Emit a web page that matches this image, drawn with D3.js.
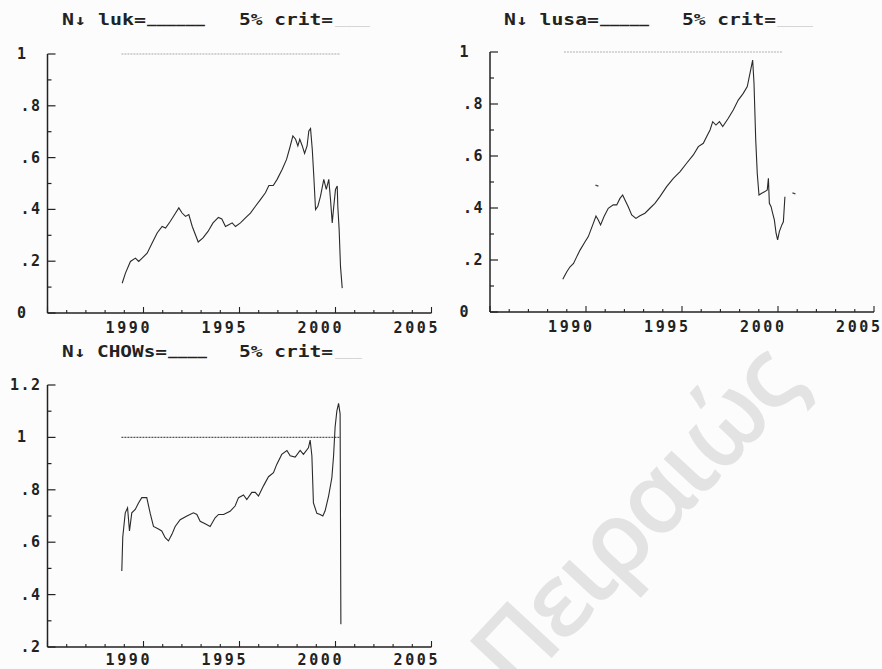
<!DOCTYPE html>
<html>
<head>
<meta charset="utf-8">
<script src="https://cdn.jsdelivr.net/npm/d3@7"></script>
<style>
  html, body { margin: 0; padding: 0; background: #fcfcfc; }
  svg { display: block; }
  .mono { font-family: "DejaVu Sans Mono", "Liberation Mono", monospace; font-weight: bold; fill: #222; }
</style>
</head>
<body>
<svg id="chart" width="882" height="669"></svg>
<script>
// Recursive break-point statistics (scaled), monthly-ish samples
const lukYears = [1988.89, 1989.06, 1989.32, 1989.58, 1989.75, 1989.93, 1990.19, 1990.45, 1990.71, 1990.97,
  1991.15, 1991.40, 1991.67, 1991.84, 1992.01, 1992.19, 1992.36, 1992.54, 1992.85, 1993.10,
  1993.36, 1993.62, 1993.90, 1994.08, 1994.27, 1994.44, 1994.62, 1994.79, 1995.05, 1995.31,
  1995.57, 1995.83, 1996.09, 1996.35, 1996.53, 1996.76, 1996.96, 1997.22, 1997.45, 1997.62,
  1997.78, 1997.92, 1998.04, 1998.14, 1998.27, 1998.39, 1998.52, 1998.61, 1998.70, 1998.79,
  1998.87, 1998.96, 1999.08, 1999.22, 1999.39, 1999.52, 1999.65, 1999.74, 1999.83, 1999.91,
  2000.00, 2000.09, 2000.12, 2000.19, 2000.26, 2000.35];
const lukValues = [0.115, 0.154, 0.199, 0.212, 0.199, 0.212, 0.231, 0.270, 0.309, 0.334,
  0.328, 0.354, 0.386, 0.406, 0.386, 0.373, 0.380, 0.334, 0.274, 0.290,
  0.315, 0.348, 0.369, 0.363, 0.334, 0.341, 0.348, 0.334, 0.348, 0.367,
  0.386, 0.412, 0.438, 0.464, 0.492, 0.492, 0.516, 0.554, 0.593, 0.638,
  0.684, 0.671, 0.645, 0.671, 0.645, 0.616, 0.645, 0.703, 0.712, 0.632,
  0.528, 0.399, 0.412, 0.451, 0.516, 0.477, 0.516, 0.438, 0.348, 0.412,
  0.477, 0.490, 0.412, 0.322, 0.180, 0.096];

const lusaYears = [1988.79, 1989.00, 1989.17, 1989.35, 1989.52, 1989.69, 1989.95, 1990.12, 1990.38, 1990.52,
  1990.64, 1990.76, 1990.94, 1991.16, 1991.42, 1991.60, 1991.77, 1991.91, 1992.03, 1992.20,
  1992.38, 1992.60, 1992.81, 1993.07, 1993.33, 1993.59, 1993.85, 1994.20, 1994.55, 1994.90,
  1995.24, 1995.59, 1995.85, 1996.11, 1996.28, 1996.46, 1996.60, 1996.77, 1996.95, 1997.12,
  1997.29, 1997.41, 1997.67, 1997.93, 1998.19, 1998.40, 1998.54, 1998.68, 1998.75, 1998.84,
  1998.92, 1999.01, 1999.15, 1999.32, 1999.44, 1999.50, 1999.55, 1999.64, 1999.72, 1999.81,
  1999.90, 1999.98, 2000.07, 2000.20, 2000.28, 2000.36];
const lusaValues = [0.126, 0.155, 0.174, 0.187, 0.213, 0.238, 0.270, 0.290, 0.341, 0.369,
  0.354, 0.335, 0.367, 0.399, 0.412, 0.412, 0.437, 0.450, 0.431, 0.405,
  0.373, 0.360, 0.370, 0.380, 0.399, 0.418, 0.444, 0.482, 0.514, 0.540,
  0.572, 0.604, 0.636, 0.649, 0.674, 0.700, 0.732, 0.719, 0.732, 0.713,
  0.732, 0.745, 0.777, 0.815, 0.841, 0.867, 0.918, 0.969, 0.880, 0.662,
  0.533, 0.450, 0.457, 0.463, 0.469, 0.514, 0.418, 0.405, 0.380, 0.354,
  0.303, 0.277, 0.309, 0.335, 0.347, 0.443];
// isolated observations outside the main run
const lusaStrayYears = [1990.57, 2000.83];
const lusaStrayValues = [0.488, 0.458];

const chowYears = [1988.87, 1988.92, 1989.05, 1989.17, 1989.27, 1989.39, 1989.57, 1989.74, 1989.91, 1990.17,
  1990.35, 1990.52, 1990.78, 1990.95, 1991.13, 1991.30, 1991.48, 1991.65, 1991.91, 1992.26,
  1992.60, 1992.78, 1992.95, 1993.21, 1993.47, 1993.73, 1993.91, 1994.17, 1994.51, 1994.77,
  1994.95, 1995.21, 1995.38, 1995.64, 1995.82, 1995.99, 1996.25, 1996.51, 1996.77, 1996.94,
  1997.20, 1997.47, 1997.64, 1997.90, 1998.16, 1998.33, 1998.59, 1998.68, 1998.77, 1998.85,
  1999.03, 1999.20, 1999.34, 1999.46, 1999.64, 1999.81, 1999.90, 1999.98, 2000.07, 2000.16,
  2000.24, 2000.28];
const chowValues = [0.49, 0.62, 0.712, 0.731, 0.643, 0.712, 0.725, 0.75, 0.77, 0.77,
  0.71, 0.66, 0.65, 0.643, 0.617, 0.605, 0.63, 0.66, 0.686, 0.70,
  0.712, 0.706, 0.68, 0.67, 0.66, 0.693, 0.706, 0.706, 0.718, 0.738,
  0.77, 0.78, 0.763, 0.79, 0.79, 0.776, 0.815, 0.85, 0.865, 0.897,
  0.935, 0.95, 0.93, 0.925, 0.95, 0.935, 0.96, 0.99, 0.93, 0.75,
  0.71, 0.706, 0.70, 0.72, 0.776, 0.846, 0.93, 1.04, 1.10, 1.13,
  1.09, 0.287];

// critical-value reference line (span and level)
const critStart = 1988.85;
const critEnd = 2000.26;
const critLevel = 1;

const yearTicks = [1990, 1995, 2000, 2005];
const yTicksTop = [0, 0.2, 0.4, 0.6, 0.8, 1];
const yTicksChow = [0.2, 0.4, 0.6, 0.8, 1, 1.2];

const svg = d3.select("#chart");

// background watermark
svg.append("text")
  .attr("transform", "translate(660,542) rotate(-47)")
  .attr("text-anchor", "middle")
  .attr("font-family", "Open Sans, Noto Sans, sans-serif")
  .attr("font-size", 100)
  .attr("font-weight", 600)
  .attr("letter-spacing", -4)
  .attr("fill", "#e3e3e3")
  .text("Πειραιώς");

const fmt = v => {
  if (Number.isInteger(v)) return String(v);
  return d3.format(".1f")(v).replace(/^0/, "");
};

function panel(cfg) {
  const g = svg.append("g");
  const x = d3.scaleLinear().domain([1985, 2005]).range(cfg.xr);
  const y = d3.scaleLinear().domain(cfg.yd).range(cfg.yr);

  // axis lines
  g.append("line").attr("x1", x(1985)).attr("x2", x(1985)).attr("y1", y(cfg.yd[0])).attr("y2", y(cfg.yd[1]))
    .attr("stroke", "#222").attr("stroke-width", 1.5);
  g.append("line").attr("x1", x(1985)).attr("x2", x(2005)).attr("y1", y(cfg.yd[0])).attr("y2", y(cfg.yd[0]))
    .attr("stroke", "#222").attr("stroke-width", 1.5);

  // y ticks: major at labelled values, minor halfway, pointing inward
  const yMinor = d3.range(cfg.yd[0], cfg.yd[1] + 1e-9, 0.1).map(v => +v.toFixed(2));
  g.selectAll(".ytk").data(yMinor).join("line")
    .attr("x1", x(1985)).attr("x2", v => x(1985) + (cfg.yTicks.some(t => Math.abs(t - v) < 1e-6) ? 8 : 4))
    .attr("y1", v => y(v)).attr("y2", v => y(v))
    .attr("stroke", "#222").attr("stroke-width", 1.2);

  g.selectAll(".ylab").data(cfg.yTicks).join("text")
    .attr("class", "mono")
    .attr("font-size", 15)
    .attr("letter-spacing", 1.5)
    .attr("text-anchor", "end")
    .attr("x", v => x(1985) - (Number.isInteger(v) ? 20 : 6))
    .attr("y", v => y(v) + 5)
    .text(fmt);

  // x ticks: major every 5 years, minor every year, pointing up
  g.selectAll(".xtk").data(d3.range(1985, 2006)).join("line")
    .attr("x1", v => x(v)).attr("x2", v => x(v))
    .attr("y1", y(cfg.yd[0])).attr("y2", v => y(cfg.yd[0]) - (v % 5 === 0 ? 6 : 3))
    .attr("stroke", "#222").attr("stroke-width", 1.1);

  g.selectAll(".xlab").data(yearTicks).join("text")
    .attr("class", "mono")
    .attr("font-size", 15)
    .attr("text-anchor", "end")
    .attr("textLength", 44)
    .attr("lengthAdjust", "spacing")
    .attr("x", v => x(v) + 6)
    .attr("y", y(cfg.yd[0]) + cfg.labDy)
    .text(d => d);

  // title segments
  cfg.title.forEach(s => {
    g.append("text")
      .attr("class", "mono")
      .attr("font-size", 15)
      .attr("x", s.x).attr("y", cfg.titleY + (s.dy || 0))
      .attr("textLength", s.w).attr("lengthAdjust", "spacingAndGlyphs")
      .style("fill", s.light ? "#bbb" : "#222")
      .style("font-weight", s.light ? "normal" : "bold")
      .text(s.t);
  });

  // dotted critical-value line
  g.append("line")
    .attr("x1", x(critStart)).attr("x2", x(critEnd))
    .attr("y1", y(critLevel)).attr("y2", y(critLevel))
    .attr("stroke", cfg.critColor).attr("stroke-width", 1.2)
    .attr("stroke-dasharray", "2,1");

  // series
  const pts = cfg.xs.map((d, i) => [d, cfg.vs[i]]);
  g.append("path")
    .attr("d", d3.line().x(d => x(d[0])).y(d => y(d[1]))(pts))
    .attr("fill", "none").attr("stroke", "#2a2a2a").attr("stroke-width", 1.1);

  if (cfg.strayX) {
    g.selectAll(".stray").data(cfg.strayX.map((d, i) => [d, cfg.strayV[i]])).join("line")
      .attr("x1", d => x(d[0]) - 1.5).attr("x2", d => x(d[0]) + 1.5)
      .attr("y1", d => y(d[1])).attr("y2", d => y(d[1]) + 1)
      .attr("stroke", "#444").attr("stroke-width", 1.2);
  }
}

panel({
  xr: [47.5, 431.5], yd: [0, 1], yr: [313, 54], yTicks: yTicksTop, labDy: 20,
  xs: lukYears, vs: lukValues, critColor: "#a8a8a8", titleY: 25,
  title: [
    { t: "N↓ luk=", x: 62, w: 84 },
    { t: "______", x: 147, w: 58, dy: -2 },
    { t: "5% crit=", x: 239, w: 94 },
    { t: "___", x: 335, w: 35, dy: -2, light: true }
  ]
});

panel({
  xr: [490, 874], yd: [0, 1], yr: [312, 52], yTicks: yTicksTop, labDy: 20,
  xs: lusaYears, vs: lusaValues, strayX: lusaStrayYears, strayV: lusaStrayValues,
  critColor: "#b0b0b0", titleY: 25,
  title: [
    { t: "N↓ lusa=", x: 504, w: 95 },
    { t: "_____", x: 600, w: 49, dy: -2 },
    { t: "5% crit=", x: 682, w: 94 },
    { t: "___", x: 777, w: 36, dy: -2, light: true }
  ]
});

panel({
  xr: [47.5, 431.5], yd: [0.2, 1.2], yr: [647, 385], yTicks: yTicksChow, labDy: 18,
  xs: chowYears, vs: chowValues, critColor: "#555", titleY: 357,
  title: [
    { t: "N↓ CHOWs=", x: 62, w: 105 },
    { t: "____", x: 168, w: 39, dy: -2 },
    { t: "5% crit=", x: 239, w: 94 },
    { t: "___", x: 335, w: 27, dy: -2, light: true }
  ]
});
</script>
</body>
</html>
